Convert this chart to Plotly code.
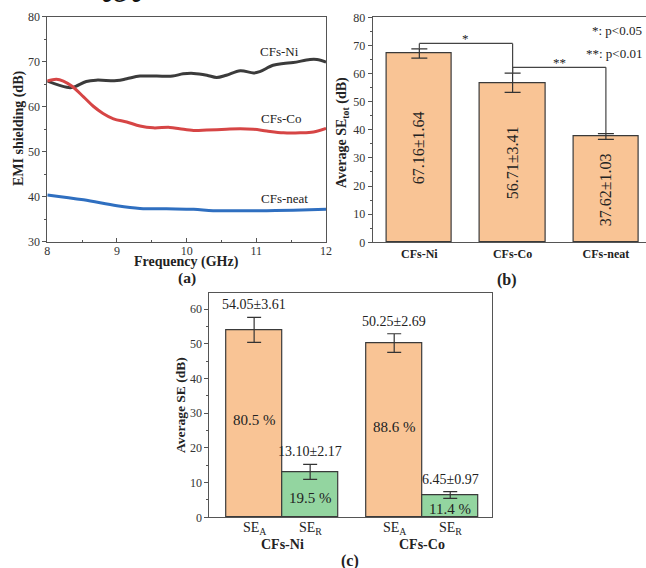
import plotly.graph_objects as go

# ---------------- data ----------------
# (a) EMI shielding spectra
ni_freq = [8.0, 8.28, 8.37, 8.56, 8.7, 9.0, 9.14, 9.33, 9.57, 9.8, 9.95, 10.1, 10.29, 10.43,
           10.57, 10.77, 10.96, 11.05, 11.24, 11.39, 11.53, 11.77, 11.87, 12.0]
ni_se = [65.7, 64.3, 64.3, 65.6, 65.9, 65.8, 66.2, 66.8, 66.8, 66.8, 67.3, 67.4, 67.0, 66.5,
         67.0, 68.0, 67.5, 67.8, 69.2, 69.6, 69.8, 70.5, 70.5, 69.9]
co_freq = [8.0, 8.13, 8.23, 8.35, 8.52, 8.66, 8.8, 8.95, 9.14, 9.33, 9.52, 9.76, 9.9, 10.1,
           10.29, 10.57, 10.77, 10.96, 11.15, 11.39, 11.63, 11.82, 12.0]
co_se = [65.7, 66.1, 65.7, 64.6, 62.2, 60.1, 58.5, 57.3, 56.6, 55.7, 55.3, 55.4, 55.1, 54.7,
         54.8, 55.0, 55.1, 55.0, 54.6, 54.2, 54.2, 54.4, 55.2]
neat_freq = [8.0, 8.52, 9.0, 9.33, 9.71, 10.1, 10.38, 10.77, 11.15, 11.53, 12.0]
neat_se = [40.4, 39.3, 38.0, 37.4, 37.3, 37.2, 36.9, 36.9, 36.9, 37.0, 37.2]

# (b) average SE_tot
b_categories = ["CFs-Ni", "CFs-Co", "CFs-neat"]
b_values = [67.16, 56.71, 37.62]
b_errors = [1.64, 3.41, 1.03]

# (c) SE_A / SE_R
c_groups = ["CFs-Ni", "CFs-Co"]
c_tick_labels = ["SE<sub>A</sub>", "SE<sub>R</sub>", "SE<sub>A</sub>", "SE<sub>R</sub>"]
sea_values = [54.05, 50.25]
sea_errors = [3.61, 2.69]
ser_values = [13.10, 6.45]
ser_errors = [2.17, 0.97]
sea_pct = ["80.5 %", "88.6 %"]
ser_pct = ["19.5 %", "11.4 %"]

# ---------------- styling ----------------
W, H = 646, 568
FONT = '"Liberation Serif", "Times New Roman", serif'
ORANGE = "#F9C495"
GREEN = "#93D5A0"
EDGE = "#3a3a3a"
AX = "#555555"
TXT = "#222222"


def px_x(p):
    return p / W


def px_y(p):
    return 1 - p / H


def f(size, bold=False, color=TXT):
    d = dict(family=FONT, size=size, color=color)
    if bold:
        d["weight"] = "bold"
    return d


fig = go.Figure()

# (a) lines
for fx, fy, col in [(ni_freq, ni_se, "#3b3b3b"), (co_freq, co_se, "#d64545"),
                    (neat_freq, neat_se, "#2f6fc0")]:
    fig.add_trace(go.Scatter(x=fx, y=fy, mode="lines", line=dict(color=col, width=3, shape="spline"),
                             xaxis="x", yaxis="y", showlegend=False, hoverinfo="skip"))

# (b) bars
fig.add_trace(go.Bar(x=b_categories, y=b_values, width=0.7,
                     marker=dict(color=ORANGE, line=dict(color=EDGE, width=1.2)),
                     error_y=dict(type="data", array=b_errors, color="#333", thickness=1.2, width=8),
                     xaxis="x2", yaxis="y2", showlegend=False, hoverinfo="skip"))

# (c) bars
sea_pos = [0, 2.5]
ser_pos = [1, 3.5]
fig.add_trace(go.Bar(x=sea_pos, y=sea_values, width=1.0,
                     marker=dict(color=ORANGE, line=dict(color=EDGE, width=1.2)),
                     error_y=dict(type="data", array=sea_errors, color="#333", thickness=1.2, width=7),
                     xaxis="x3", yaxis="y3", showlegend=False, hoverinfo="skip"))
fig.add_trace(go.Bar(x=ser_pos, y=ser_values, width=1.0,
                     marker=dict(color=GREEN, line=dict(color=EDGE, width=1.2)),
                     error_y=dict(type="data", array=ser_errors, color="#333", thickness=1.2, width=7),
                     xaxis="x3", yaxis="y3", showlegend=False, hoverinfo="skip"))

tickfont = dict(family=FONT, size=12, color="#333")
common_axis = dict(showline=True, linecolor=AX, linewidth=1, showgrid=False, zeroline=False,
                   tickfont=tickfont, tickcolor=AX, automargin=False)

fig.update_layout(
    width=W, height=H, margin=dict(l=0, r=0, t=0, b=0, autoexpand=False),
    paper_bgcolor="white", plot_bgcolor="white",
    font=dict(family=FONT, color=TXT),
    bargap=0,
    xaxis=dict(domain=[px_x(47.3), px_x(326)], range=[8, 12], dtick=1, ticks="inside", ticklen=4,
               minor=dict(dtick=0.5, ticks="inside", ticklen=2, tickcolor=AX), mirror=True,
               anchor="y", ticklabelstandoff=-2, **common_axis),
    yaxis=dict(domain=[px_y(241.7), px_y(16.7)], range=[30, 80], dtick=10, ticks="outside", ticklen=4,
               minor=dict(dtick=5, ticks="outside", ticklen=2, tickcolor=AX), mirror=True,
               anchor="x", **common_axis),
    xaxis2=dict(domain=[px_x(372.7), 1.0], range=[-0.5, 2.43], type="category", ticks="",
                mirror=True, anchor="y2", automargin=False, tickfont=f(12, True),
                showline=True, linecolor=AX, linewidth=1, showgrid=False, zeroline=False),
    yaxis2=dict(domain=[px_y(242.3), px_y(17.3)], range=[0, 80], dtick=10, ticks="outside", ticklen=4,
                minor=dict(dtick=5, ticks="outside", ticklen=2, tickcolor=AX), mirror=True,
                anchor="x2", **common_axis),
    xaxis3=dict(domain=[px_x(209.3), px_x(491.7)], range=[-0.8, 4.24], showticklabels=False,
                ticks="", mirror=True, anchor="y3", automargin=False,
                showline=True, linecolor=AX, linewidth=1, showgrid=False, zeroline=False),
    yaxis3=dict(domain=[px_y(517.3), px_y(293.3)], range=[0, 64.6], dtick=10, ticks="outside", ticklen=4,
                minor=dict(dtick=5, ticks="outside", ticklen=2, tickcolor=AX), mirror=True,
                anchor="x3", **common_axis),
)

ann = []


def paper_text(text, x, y, font, **kw):
    d = dict(text=text, x=px_x(x), y=px_y(y), xref="paper", yref="paper", showarrow=False,
             xanchor="center", yanchor="middle", font=font)
    d.update(kw)
    ann.append(d)


# axis titles
paper_text("<b>EMI shielding (dB)</b>", 19, 129, f(14), textangle=-90)
paper_text("<b>Average SE<sub>tot</sub> (dB)</b>", 343, 133, f(14), textangle=-90)
paper_text("<b>Average SE (dB)</b>", 180, 405, f(13.5), textangle=-90)
paper_text("<b>Frequency (GHz)</b>", 186.5, 262, f(14))
# panel labels
paper_text("<b>(a)</b>", 186.5, 277.5, f(15.5))
paper_text("<b>(b)</b>", 507, 280, f(16))
paper_text("<b>(c)</b>", 350, 561, f(16))
# cut-off fragment at the very top
paper_text("<i>tot</i>", 122, 12, f(38, color="#111"), yanchor="bottom")
# significance legend
paper_text("*: p<0.05", 644, 30, f(13), xanchor="right")
paper_text("**: p<0.01", 644, 54, f(13), xanchor="right")

# (a) curve labels
for name, xx, yy in [("CFs-Ni", 11.33, 72.2), ("CFs-Co", 11.36, 57.4), ("CFs-neat", 11.4, 39.5)]:
    ann.append(dict(text=name, x=xx, y=yy, xref="x", yref="y", showarrow=False,
                    xanchor="center", yanchor="middle", font=f(13)))

# (b) rotated value labels
for c, v, e in zip(b_categories, b_values, b_errors):
    ann.append(dict(text=f"{v:.2f}±{e:.2f}", x=c, y=v / 2, xref="x2", yref="y2", textangle=-90,
                    xanchor="center", yanchor="middle", showarrow=False, font=f(16)))

shapes = []
# significance brackets on (b)
top1 = 70.7
top2 = 62.2
bracket_lines = [
    (0, b_values[0] + b_errors[0], 0, top1), (0, top1, 1, top1), (1, top1, 1, b_values[1] + b_errors[1]),
    (1, b_values[1] + b_errors[1], 1, top2), (1, top2, 2, top2), (2, top2, 2, b_values[2] + b_errors[2]),
]
for x0, y0, x1, y1 in bracket_lines:
    shapes.append(dict(type="line", xref="x2", yref="y2", x0=b_categories[x0], y0=y0,
                       x1=b_categories[x1], y1=y1, line=dict(color="#444", width=1.2)))
ann.append(dict(text="*", x=0.5, y=top1 + 1.6, xref="x2", yref="y2", showarrow=False,
                xanchor="center", yanchor="middle", font=f(13)))
ann.append(dict(text="**", x=1.5, y=top2 + 1.7, xref="x2", yref="y2", showarrow=False,
                xanchor="center", yanchor="middle", font=f(13)))

# (c) labels
for pos, v, e in zip(sea_pos + ser_pos, sea_values + ser_values, sea_errors + ser_errors):
    ann.append(dict(text=f"{v:.2f}±{e:.2f}", x=pos, y=v + e, xref="x3", yref="y3",
                    xanchor="center", yanchor="bottom", yshift=3, showarrow=False, font=f(14)))
for pos, v, t in zip(sea_pos, sea_values, sea_pct):
    ann.append(dict(text=t, x=pos, y=v / 2 + 1, xref="x3", yref="y3", showarrow=False,
                    xanchor="center", yanchor="middle", font=f(15)))
for pos, v, t, off in zip(ser_pos, ser_values, ser_pct, [-1.0, -0.9]):
    ann.append(dict(text=t, x=pos, y=v / 2 + off, xref="x3", yref="y3", showarrow=False,
                    xanchor="center", yanchor="middle", font=f(15)))
# category tick labels and group labels for (c)
for pos, lab in zip([sea_pos[0], ser_pos[0], sea_pos[1], ser_pos[1]], c_tick_labels):
    ann.append(dict(text=lab, x=pos, y=px_y(528), xref="x3", yref="paper", showarrow=False,
                    xanchor="center", yanchor="middle", font=f(14)))
for g, a, r in zip(c_groups, sea_pos, ser_pos):
    ann.append(dict(text=f"<b>{g}</b>", x=(a + r) / 2, y=px_y(544), xref="x3", yref="paper",
                    showarrow=False, xanchor="center", yanchor="middle", font=f(14)))

fig.update_layout(annotations=ann, shapes=shapes)
fig.write_html("out.html", config={"displayModeBar": False},
               post_script="document.body.style.margin='0';document.body.style.overflow='hidden';")
